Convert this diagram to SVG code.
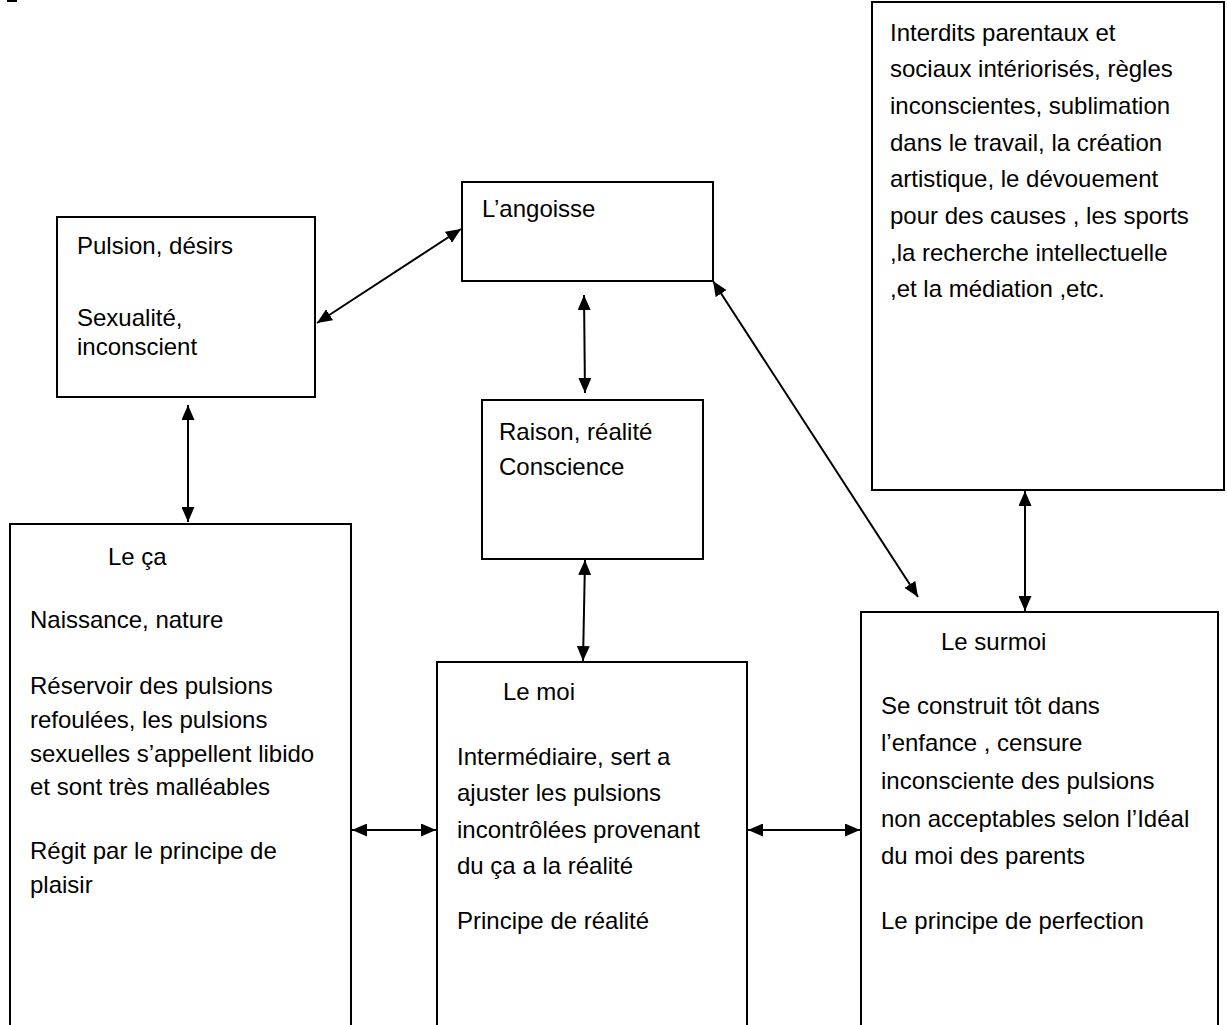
<svg xmlns="http://www.w3.org/2000/svg" width="1227" height="1025" viewBox="0 0 1227 1025">
<defs>
<marker id="ah" viewBox="0 0 15 13" refX="15" refY="6.5" markerWidth="15" markerHeight="13" markerUnits="userSpaceOnUse" orient="auto-start-reverse">
<path d="M0,0 L15,6.5 L0,13 Z" fill="#000"/>
</marker>
<style>
.box{fill:#fff;stroke:#000;stroke-width:2}
.t{font-family:"Liberation Sans",Arial,sans-serif;font-size:24px;fill:#000}
.c{stroke:#000;stroke-width:2;fill:none;marker-start:url(#ah);marker-end:url(#ah)}
</style>
</defs>
<rect width="1227" height="1025" fill="#fff"/>
<rect x="7" y="0" width="10" height="2" fill="#000"/>

<g id="node-surmoi-detail">
<rect class="box" x="872" y="2" width="352" height="488"/>
<text class="t" x="890"><tspan x="890" y="41">Interdits parentaux et</tspan><tspan x="890" y="77">sociaux intériorisés, règles</tspan><tspan x="890" y="114">inconscientes, sublimation</tspan><tspan x="890" y="151">dans le travail, la création</tspan><tspan x="890" y="187">artistique, le dévouement</tspan><tspan x="890" y="224">pour des causes , les sports</tspan><tspan x="890" y="261">,la recherche intellectuelle</tspan><tspan x="890" y="297">,et la médiation ,etc.</tspan></text>
</g>

<g id="node-pulsion">
<rect class="box" x="57" y="217" width="258" height="180"/>
<text class="t"><tspan x="77" y="254">Pulsion, désirs</tspan><tspan x="77" y="326">Sexualité,</tspan><tspan x="77" y="355">inconscient</tspan></text>
</g>

<g id="node-angoisse">
<rect class="box" x="462" y="182" width="251" height="99"/>
<text class="t" x="482" y="217">L’angoisse</text>
</g>

<g id="node-raison">
<rect class="box" x="482" y="400" width="221" height="159"/>
<text class="t"><tspan x="499" y="440">Raison, réalité</tspan><tspan x="499" y="475">Conscience</tspan></text>
</g>

<g id="node-ca">
<rect class="box" x="10" y="524" width="341" height="520"/>
<text class="t"><tspan x="108" y="565">Le ça</tspan><tspan x="30" y="628">Naissance, nature</tspan><tspan x="30" y="694">Réservoir des pulsions</tspan><tspan x="30" y="728">refoulées, les pulsions</tspan><tspan x="30" y="762">sexuelles s’appellent libido</tspan><tspan x="30" y="795">et sont très malléables</tspan><tspan x="30" y="859">Régit par le principe de</tspan><tspan x="30" y="893">plaisir</tspan></text>
</g>

<g id="node-moi">
<rect class="box" x="437" y="662" width="310" height="380"/>
<text class="t"><tspan x="503" y="700">Le moi</tspan><tspan x="457" y="765">Intermédiaire, sert a</tspan><tspan x="457" y="801">ajuster les pulsions</tspan><tspan x="457" y="838">incontrôlées provenant</tspan><tspan x="457" y="874">du ça a la réalité</tspan><tspan x="457" y="929">Principe de réalité</tspan></text>
</g>

<g id="node-surmoi">
<rect class="box" x="861" y="612" width="357" height="430"/>
<text class="t"><tspan x="941" y="650">Le surmoi</tspan><tspan x="881" y="714">Se construit tôt dans</tspan><tspan x="881" y="751">l’enfance , censure</tspan><tspan x="881" y="789">inconsciente des pulsions</tspan><tspan x="881" y="827">non acceptables selon l’Idéal</tspan><tspan x="881" y="864">du moi des parents</tspan><tspan x="881" y="929">Le principe de perfection</tspan></text>
</g>

<g id="connectors">
<line class="c" x1="317" y1="323" x2="461" y2="229"/>
<line class="c" x1="188" y1="405" x2="188" y2="522"/>
<line class="c" x1="584" y1="295" x2="585" y2="393"/>
<line class="c" x1="585" y1="560" x2="583" y2="661"/>
<line class="c" x1="713" y1="281" x2="918" y2="597"/>
<line class="c" x1="1025" y1="491" x2="1025" y2="611"/>
<line class="c" x1="352" y1="830" x2="436" y2="830"/>
<line class="c" x1="748" y1="830" x2="860" y2="830"/>
</g>
</svg>
